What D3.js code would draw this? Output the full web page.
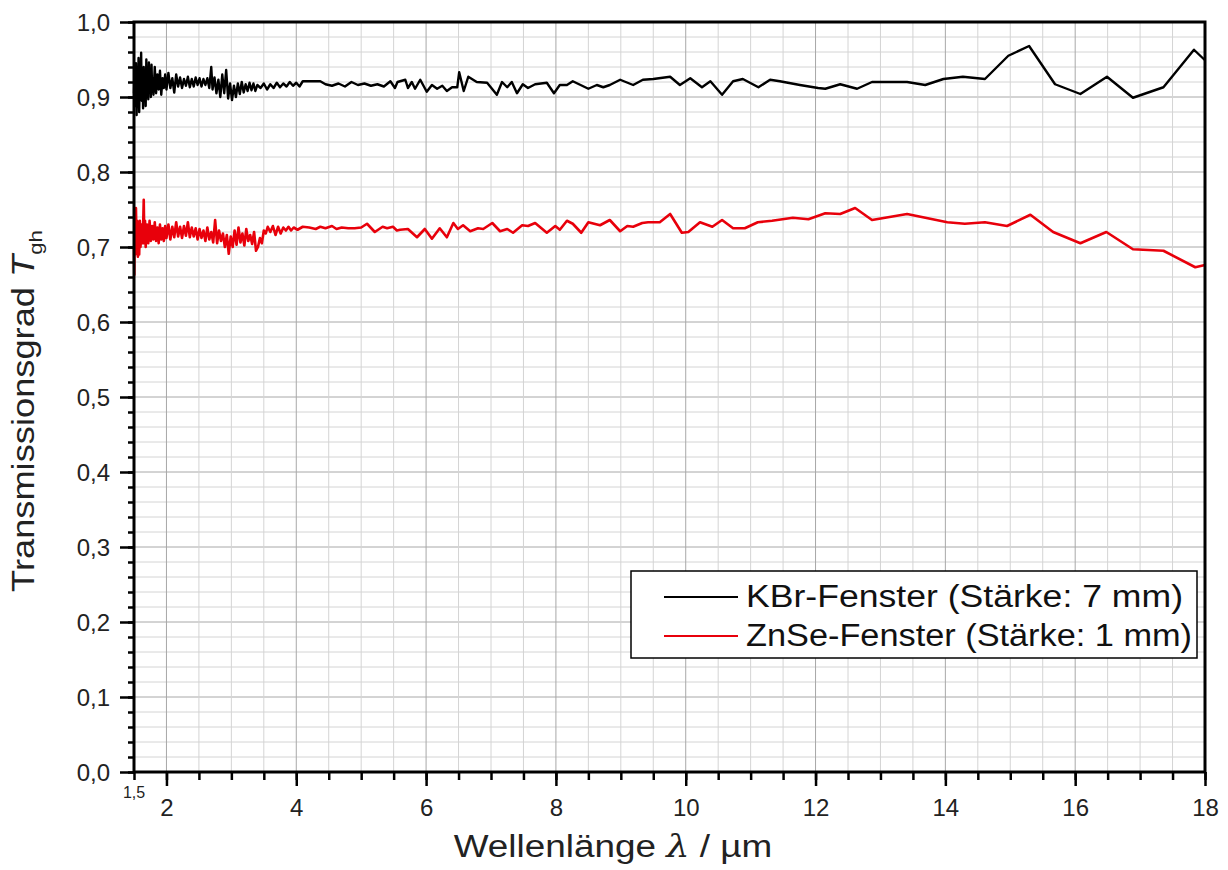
<!DOCTYPE html>
<html>
<head>
<meta charset="utf-8">
<script src="https://cdn.jsdelivr.net/npm/d3@7"></script>
<style>
  body { margin: 0; background: #fff; }
  text { font-family: "Liberation Sans", Arial, sans-serif; }
</style>
</head>
<body>
<svg id="chart" width="1228" height="870"></svg>
<script>
// wavelength in µm, transmission
const kbrWavelength = [
  1.50,1.51,1.52,1.53,1.54,1.55,1.56,1.57,1.58,1.59,1.60,1.61,1.62,1.63,1.64,1.65,1.66,1.67,1.68,1.69,
  1.70,1.71,1.72,1.73,1.74,1.75,1.76,1.77,1.78,1.79,1.80,1.82,1.84,1.86,1.88,1.90,1.92,1.94,1.96,1.98,
  2.00,2.03,2.06,2.09,2.12,2.15,2.18,2.21,2.24,2.27,2.30,2.33,2.36,2.39,2.42,2.45,2.48,2.51,2.54,2.57,
  2.60,2.63,2.66,2.69,2.71,2.74,2.77,2.80,2.83,2.86,2.89,2.92,2.95,2.98,3.01,3.04,3.07,3.10,3.13,3.16,
  3.19,3.22,3.25,3.28,3.31,3.34,3.37,3.40,3.45,3.50,3.55,3.60,3.65,3.70,3.75,3.80,3.85,3.90,3.95,4.00,
  4.05,4.10,4.37,4.45,4.55,4.65,4.75,4.85,4.95,5.05,5.15,5.25,5.35,5.45,5.52,5.56,
  5.60,5.68,5.72,5.78,5.83,5.91,6.01,6.09,6.17,6.25,6.32,6.40,6.48,6.51,6.58,6.65,6.78,6.94,7.09,7.17,
  7.25,7.32,7.40,7.49,7.57,7.68,7.86,7.97,8.06,8.17,8.26,8.50,8.63,8.73,8.83,8.99,9.19,9.34,9.50,9.76,
  9.91,10.07,10.25,10.38,10.56,10.73,10.88,11.12,11.30,11.45,11.76,12.04,12.15,12.38,12.64,12.87,13.41,13.69,13.97,14.27,
  14.61,14.97,15.29,15.69,16.08,16.49,16.89,17.36,17.83,18.00
];
const kbrTransmission = [
  .905,.935,.888,.945,.876,.925,.900,.952,.880,.930,.905,.959,.895,.935,.885,.940,.905,.925,.888,.950,
  .902,.930,.897,.946,.910,.935,.900,.943,.908,.925,.903,.940,.905,.930,.910,.935,.903,.925,.912,.930,
  .910,.932,.912,.925,.906,.930,.914,.926,.912,.924,.915,.927,.913,.924,.914,.926,.916,.925,.914,.924,
  .916,.925,.912,.940,.910,.926,.905,.923,.900,.930,.905,.936,.898,.918,.896,.915,.900,.918,.904,.920,
  .906,.917,.908,.919,.909,.918,.908,.916,.912,.918,.910,.917,.912,.919,.913,.918,.914,.920,.915,.919,
  .914,.921,.921,.917,.915,.918,.914,.920,.916,.918,.915,.917,.914,.921,.912,.920,
  .921,.923,.912,.920,.911,.923,.907,.916,.911,.915,.908,.913,.913,.933,.908,.927,.920,.919,.903,.920,
  .913,.920,.905,.917,.912,.917,.919,.905,.916,.916,.921,.911,.916,.913,.916,.923,.916,.923,.924,.927,
  .916,.925,.913,.921,.903,.921,.924,.913,.923,.921,.916,.912,.911,.917,.911,.920,.920,.916,.924,.927,
  .924,.955,.968,.917,.904,.927,.899,.913,.963,.949
];

const znseWavelength = [
  1.500,1.505,1.51,1.52,1.53,1.54,1.55,1.56,1.57,1.58,1.59,1.60,1.62,1.635,1.65,1.66,1.67,1.68,1.70,1.72,
  1.74,1.76,1.78,1.80,1.82,1.84,1.86,1.88,1.90,1.92,1.94,1.96,1.98,2.00,2.03,2.06,2.09,2.12,2.15,2.18,
  2.21,2.24,2.27,2.30,2.33,2.36,2.39,2.42,2.45,2.48,2.51,2.54,2.57,2.60,2.63,2.66,2.69,2.72,2.75,2.78,
  2.81,2.84,2.87,2.90,2.93,2.96,2.99,3.02,3.05,3.08,3.11,3.14,3.17,3.20,3.23,3.26,3.29,3.32,3.35,3.38,
  3.41,3.44,3.47,3.50,3.53,3.56,3.60,3.64,3.68,3.72,3.76,3.80,3.84,3.88,3.92,3.96,4.02,4.10,4.20,4.30,
  4.37,4.45,4.55,4.62,4.70,4.80,4.90,5.00,5.09,5.21,5.33,5.40,5.49,5.55,
  5.60,5.72,5.86,5.98,6.09,6.21,6.32,6.42,6.49,6.57,6.68,6.80,6.88,7.02,7.14,7.25,7.34,7.48,7.57,7.68,
  7.86,7.99,8.06,8.17,8.26,8.39,8.50,8.68,8.83,8.99,9.10,9.19,9.33,9.42,9.60,9.76,9.94,10.04,10.22,10.41,
  10.56,10.73,10.91,11.11,11.33,11.65,11.89,12.15,12.38,12.61,12.87,13.41,14.03,14.30,14.61,14.95,15.31,15.66,16.08,16.48,
  16.89,17.36,17.85,18.00
];
const znseTransmission = [
  .700,.663,.745,.690,.752,.705,.735,.687,.728,.690,.735,.700,.730,.705,.763,.705,.735,.700,.730,.705,
  .735,.708,.728,.710,.733,.708,.726,.705,.730,.710,.725,.708,.728,.712,.730,.710,.727,.713,.733,.714,
  .727,.712,.728,.715,.733,.713,.726,.714,.725,.710,.724,.712,.722,.708,.726,.710,.720,.706,.736,.705,
  .722,.708,.718,.700,.716,.691,.714,.700,.722,.703,.726,.706,.718,.702,.724,.708,.716,.704,.720,.695,
  .700,.712,.705,.722,.718,.727,.720,.728,.716,.727,.718,.726,.722,.727,.722,.726,.723,.727,.726,.724,
  .727,.725,.728,.724,.726,.725,.725,.726,.731,.720,.727,.725,.727,.722,
  .723,.724,.713,.724,.711,.725,.713,.732,.724,.729,.721,.725,.724,.732,.721,.724,.719,.729,.728,.732,
  .719,.728,.723,.735,.731,.719,.733,.729,.736,.721,.728,.727,.732,.733,.733,.744,.719,.720,.733,.727,
  .736,.725,.725,.733,.735,.739,.737,.745,.744,.752,.736,.744,.733,.731,.733,.728,.743,.720,.705,.720,
  .697,.695,.673,.676
];

const yTicks = [0, 0.1, 0.2, 0.3, 0.4, 0.5, 0.6, 0.7, 0.8, 0.9, 1.0];
const xTicks = [2, 4, 6, 8, 10, 12, 14, 16, 18];
const legendLabels = ["KBr-Fenster (Stärke: 7 mm)", "ZnSe-Fenster (Stärke: 1 mm)"];
const seriesColors = ["#000000", "#e8000b"];

const svg = d3.select("#chart");
const mLeft = 134, mRight = 1205, mTop = 22, mBottom = 772;

const x = d3.scaleLinear().domain([1.5, 18]).range([mLeft, mRight]);
const y = d3.scaleLinear().domain([0, 1]).range([mBottom, mTop]);
const comma = v => d3.format(".1f")(v).replace(".", ",");

// grid
const g = svg.append("g");
d3.range(0, 1.0001, 0.02).forEach(v => {
  const major = Math.abs(v * 10 - Math.round(v * 10)) < 1e-6;
  g.append("line").attr("x1", mLeft).attr("x2", mRight).attr("y1", y(v)).attr("y2", y(v))
    .attr("stroke", major ? "#a8a8a8" : "#d4d4d4").attr("stroke-width", 1);
});
d3.range(2, 18.0001, 0.5).forEach(v => {
  const major = Math.abs(v % 2) < 1e-6;
  g.append("line").attr("y1", mTop).attr("y2", mBottom).attr("x1", x(v)).attr("x2", x(v))
    .attr("stroke", major ? "#a8a8a8" : "#d4d4d4").attr("stroke-width", 1);
});

// series
const line = d3.line().x(d => x(d[0])).y(d => y(d[1]));
const kbr = kbrWavelength.map((w, i) => [w, kbrTransmission[i]]);
const znse = znseWavelength.map((w, i) => [w, znseTransmission[i]]);
svg.append("path").attr("d", line(kbr)).attr("fill", "none")
  .attr("stroke", seriesColors[0]).attr("stroke-width", 2.4).attr("stroke-linejoin", "round");
svg.append("path").attr("d", line(znse)).attr("fill", "none")
  .attr("stroke", seriesColors[1]).attr("stroke-width", 2.6).attr("stroke-linejoin", "round");

// axes
const yAxis = svg.append("g").attr("transform", `translate(${mLeft},0)`)
  .call(d3.axisLeft(y).tickValues(yTicks).tickFormat(comma).tickSize(14).tickSizeOuter(0));
svg.append("g").attr("transform", `translate(${mLeft},0)`)
  .call(d3.axisLeft(y).tickValues(d3.range(0, 1.0001, 0.02)).tickFormat("").tickSize(6).tickSizeOuter(0));
const xAxis = svg.append("g").attr("transform", `translate(0,${mBottom})`)
  .call(d3.axisBottom(x).tickValues(xTicks).tickFormat(d3.format("d")).tickSize(14).tickSizeOuter(0));
svg.append("g").attr("transform", `translate(0,${mBottom})`)
  .call(d3.axisBottom(x).tickValues(d3.range(1.5, 18.0001, 0.5)).tickFormat("").tickSize(8).tickSizeOuter(0));

svg.selectAll(".domain").remove();
svg.selectAll(".tick line").attr("stroke", "#000").attr("stroke-width", 2.5);
yAxis.selectAll("text").attr("font-size", 24).attr("fill", "#222").attr("x", -24).attr("dy", "0.36em")
  .style("font-family", "Liberation Sans, Arial, sans-serif");
xAxis.selectAll("text").attr("font-size", 24).attr("fill", "#222").attr("y", 27).attr("dy", "0.72em")
  .style("font-family", "Liberation Sans, Arial, sans-serif");

// frame
svg.append("rect").attr("x", mLeft).attr("y", mTop).attr("width", mRight - mLeft).attr("height", mBottom - mTop)
  .attr("fill", "none").attr("stroke", "#000").attr("stroke-width", 3);

svg.append("text").attr("x", x(1.5)).attr("y", 798).attr("text-anchor", "middle")
  .attr("font-size", 16).attr("fill", "#222").text("1,5");

// axis titles (the source font runs a little wider than Arial, hence the x-stretch)
const xt = svg.append("text").attr("transform", "translate(613,857) scale(1.19,1)")
  .attr("text-anchor", "middle").attr("font-size", 31).attr("fill", "#222");
xt.append("tspan").text("Wellenlänge ");
xt.append("tspan").attr("font-style", "italic").attr("font-family", "DejaVu Serif").text("λ");
xt.append("tspan").text(" / µm");

const yt = svg.append("text").attr("transform", "translate(34,411) rotate(-90) scale(1.17,1)")
  .attr("text-anchor", "middle").attr("font-size", 31).attr("fill", "#222");
yt.append("tspan").text("Transmissionsgrad ");
yt.append("tspan").attr("font-style", "italic").text("T");
yt.append("tspan").attr("font-size", 19).attr("dy", 8).text("gh");

// legend
const lg = svg.append("g");
lg.append("rect").attr("x", 631).attr("y", 571).attr("width", 566).attr("height", 87)
  .attr("fill", "#fff").attr("stroke", "#000").attr("stroke-width", 1.5);
const legendWidths = [437, 446];
legendLabels.forEach((t, i) => {
  const ly = 597 + i * 39;
  lg.append("line").attr("x1", 664).attr("x2", 738).attr("y1", ly).attr("y2", ly)
    .attr("stroke", seriesColors[i]).attr("stroke-width", 2.2);
  lg.append("text").attr("x", 746).attr("y", ly + 10).attr("font-size", 31).attr("fill", "#111")
    .attr("textLength", legendWidths[i]).attr("lengthAdjust", "spacingAndGlyphs").text(t);
});
</script>
</body>
</html>
